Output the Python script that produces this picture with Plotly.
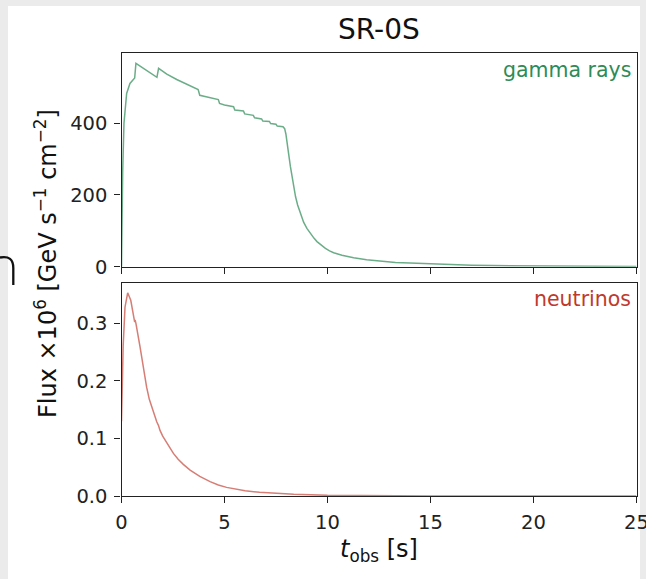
import plotly.graph_objects as go

# ---- data ----
gamma_t = [0, 0.03, 0.057, 0.12, 0.25, 0.41, 0.57, 0.64, 0.70, 1.0, 1.3, 1.6, 1.72, 1.80,
           2.2, 2.68, 3.2, 3.66, 3.72, 3.80, 4.2, 4.70, 4.76, 5.0, 5.44, 5.50, 5.92, 5.98,
           6.40, 6.46, 6.80, 6.86, 7.18, 7.24, 7.50, 7.56, 7.84, 7.92, 7.98, 8.03, 8.1,
           8.2, 8.28, 8.36, 8.45, 8.55, 8.68, 8.84, 9.0, 9.17, 9.35, 9.49, 9.7, 9.9, 10.1,
           10.3, 10.7, 11.27, 11.9, 12.57, 13.3, 14, 15, 16, 17, 18, 20, 22, 25]
gamma_flux = [0, 150, 262, 400, 483, 511, 522, 526, 567, 556, 544, 532, 528, 553,
              537, 522, 508, 497, 494, 478, 472, 466, 455, 451, 446, 437, 434, 426,
              422, 415, 412, 406, 405, 399, 397, 392, 390, 385, 370, 354, 320,
              279, 248, 222, 195, 172, 150, 124, 107, 92, 79, 70, 59, 51, 44,
              39, 32, 25, 19.5, 15.6, 12, 10, 7.5, 5.5, 4.2, 3.2, 2, 1.2, 0.6]

nu_t = [0, 0.08, 0.17, 0.30, 0.45, 0.58, 0.64, 0.66, 0.70, 0.9, 1.05, 1.22, 1.35, 1.5,
        1.71, 1.80, 1.87, 2.0, 2.2, 2.52, 2.75, 3.0, 3.33, 3.8, 4.3, 4.7, 5.1, 5.5, 6.0,
        6.7, 7.5, 8.36, 10, 12, 15, 20, 25]
nu_flux = [0.13, 0.26, 0.328, 0.353, 0.340, 0.311, 0.302, 0.306, 0.300, 0.259, 0.225, 0.189,
           0.168, 0.150, 0.129, 0.122, 0.114, 0.104, 0.092, 0.074, 0.064, 0.055, 0.045, 0.034,
           0.025, 0.019, 0.015, 0.012, 0.009, 0.0064, 0.0045, 0.003, 0.0012, 0.0005, 0.0002,
           0.0001, 0.00005]

x_ticks = [0, 5, 10, 15, 20, 25]
gamma_ticks = [0, 200, 400]
nu_ticks = [0.0, 0.1, 0.2, 0.3]

title_text = "SR-0S"
ylabel_text = "Flux ×10<sup>6</sup> [GeV s<sup>−1</sup> cm<sup>−2</sup>]"
xlabel_text = "<i>t</i><sub>obs</sub> [s]"

W, H = 646, 579
FONT = "DejaVu Sans"
GREEN = "#2e8b57"
RED = "#c0392b"

def px(x):
    return x / W

def py(y):
    return 1 - y / H

fig = go.Figure()
fig.add_trace(go.Scatter(x=gamma_t, y=gamma_flux, mode="lines",
                         line=dict(color=GREEN, width=1.5), opacity=0.7,
                         xaxis="x", yaxis="y", showlegend=False))
fig.add_trace(go.Scatter(x=nu_t, y=nu_flux, mode="lines",
                         line=dict(color=RED, width=1.5), opacity=0.65,
                         xaxis="x2", yaxis="y2", showlegend=False))

common_axis = dict(showline=True, linecolor="#222", linewidth=1.3, mirror=True,
                   ticks="outside", ticklen=6, tickwidth=1.3, tickcolor="#222",
                   showgrid=False, zeroline=False, automargin=False,
                   ticklabeloverflow="allow",
                   tickfont=dict(family=FONT, size=19.5, color="#222"))

xdom = [px(121.5), px(636.5)]
fig.update_layout(
    width=W, height=H, margin=dict(l=0, r=0, t=0, b=0, pad=0), autosize=False,
    paper_bgcolor="#ebebeb", plot_bgcolor="white",
    xaxis=dict(domain=xdom, range=[0, 25], tickvals=x_ticks, showticklabels=False,
               anchor="y", **common_axis),
    yaxis=dict(domain=[py(266.7), py(53.3)], range=[0, 595], tickvals=gamma_ticks,
               anchor="x", ticklabelstandoff=3, **common_axis),
    xaxis2=dict(domain=xdom, range=[0, 25], tickvals=x_ticks, anchor="y2",
                ticklabelstandoff=2, **common_axis),
    yaxis2=dict(domain=[py(496), py(282.7)], range=[0, 0.3706], tickvals=nu_ticks,
                tickformat=".1f", anchor="x2", ticklabelstandoff=3, **common_axis),
    shapes=[
        dict(type="rect", xref="paper", yref="paper", x0=px(8), x1=px(640), y0=0, y1=py(6),
             fillcolor="white", line=dict(width=0), layer="below"),
        dict(type="path", xref="paper", yref="paper",
             path="M %f,%f C %f,%f %f,%f %f,%f L %f,%f" % (
                 px(0), py(257.5), px(9), py(256), px(13.3), py(259), px(13.3), py(268),
                 px(13.3), py(285)),
             line=dict(color="#111", width=2.3)),
    ],
    annotations=[
        dict(text=title_text, xref="paper", yref="paper", x=px(378.5), y=py(30),
             xanchor="center", yanchor="middle", showarrow=False,
             font=dict(family=FONT, size=28, color="#111")),
        dict(text=ylabel_text, xref="paper", yref="paper", x=px(46), y=py(264),
             xanchor="center", yanchor="middle", textangle=-90, showarrow=False,
             font=dict(family=FONT, size=24, color="#111")),
        dict(text=xlabel_text, xref="paper", yref="paper", x=px(378.5), y=py(550),
             xanchor="center", yanchor="middle", showarrow=False,
             font=dict(family=FONT, size=24, color="#111")),
        dict(text="gamma rays", xref="paper", yref="paper", x=px(633), y=py(70),
             xanchor="right", yanchor="middle", showarrow=False,
             font=dict(family=FONT, size=20.5, color=GREEN)),
        dict(text="neutrinos", xref="paper", yref="paper", x=px(633), y=py(299),
             xanchor="right", yanchor="middle", showarrow=False,
             font=dict(family=FONT, size=20.5, color=RED)),
    ],
)

fig.write_html("out.html")
